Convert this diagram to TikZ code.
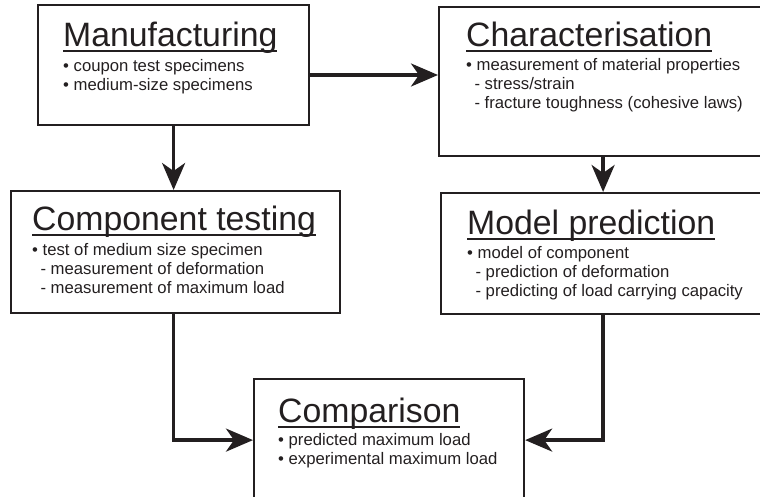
\documentclass[tikz,border=0pt]{standalone}
\usepackage{fontspec}
\setmainfont{Liberation Sans}
\usepackage{xcolor}
\usetikzlibrary{arrows.meta}

\definecolor{ink}{HTML}{231F20}

\newcommand{\boxtitle}[1]{\leavevmode{\fontsize{33.8}{38}\selectfont\setbox0\hbox{#1}\rlap{\rule[-5.5pt]{\wd0}{2pt}}\box0}}
\newcommand{\bodysize}{\fontsize{16.7}{19}\selectfont}

\tikzset{
  stage/.style={draw=ink, line width=2.2pt, anchor=north west, inner sep=0pt},
  stagetext/.style={anchor=base west, inner sep=0pt, text=ink, font=\bodysize},
  flow/.style={draw=ink, line width=3.4pt, -{Stealth[length=27pt, width=23pt, inset=8pt]}}
}

\begin{document}
\begin{tikzpicture}[x=1pt, y=-1pt]
  \useasboundingbox (0,0) rectangle (760,497);
  \clip (0,0) rectangle (760,497);

  % boxes
  \node[stage, minimum width=271pt, minimum height=120pt] (manu) at (37,4) {};
  \node[stage, minimum width=328pt, minimum height=149pt] (charac) at (438,6) {};
  \node[stage, minimum width=329pt, minimum height=122pt] (comptest) at (10,190) {};
  \node[stage, minimum width=326pt, minimum height=121pt] (model) at (440,192) {};
  \node[stage, minimum width=270pt, minimum height=122pt] (compare) at (253,378) {};

  % texts
  \node[stagetext] (manutxt) at (63,47) {\parbox[t]{300pt}{\raggedright
    \boxtitle{Manufacturing}\\[4.5pt]
    \textbullet\ coupon test specimens\\
    \textbullet\ medium-size specimens}};
  \node[stagetext] (charactxt) at (466,47) {\parbox[t]{300pt}{\raggedright
    \boxtitle{Characterisation}\\[5pt]
    \textbullet\ measurement of material properties\\
    \hspace*{0.5em}- stress/strain\\
    \hspace*{0.5em}- fracture toughness (cohesive laws)}};
  \node[stagetext] (comptesttxt) at (32,230) {\parbox[t]{320pt}{\raggedright
    \boxtitle{Component testing}\\[5pt]
    \textbullet\ test of medium size specimen\\
    \hspace*{0.5em}- measurement of deformation\\
    \hspace*{0.5em}- measurement of maximum load}};
  \node[stagetext] (modeltxt) at (467,234) {\parbox[t]{300pt}{\raggedright
    \boxtitle{Model prediction}\\[4.5pt]
    \textbullet\ model of component\\
    \hspace*{0.5em}- prediction of deformation\\
    \hspace*{0.5em}- predicting of load carrying capacity}};
  \node[stagetext] (comparetxt) at (278,422) {\parbox[t]{300pt}{\raggedright
    \boxtitle{Comparison}\\[3.5pt]
    \textbullet\ predicted maximum load\\
    \textbullet\ experimental maximum load}};

  % connectors
  \coordinate (toprow) at (0,75);
  \draw[flow] (manu.east |- toprow) -- (charac.west |- toprow);
  \draw[flow] (manu.south) -- (manu.south |- comptest.north);
  \draw[flow] (charac.south) -- (charac.south |- model.north);
  \draw[flow] (manu.south |- comptest.south) |- (compare.west);
  \draw[flow] (charac.south |- model.south) |- (compare.east);
\end{tikzpicture}
\end{document}
